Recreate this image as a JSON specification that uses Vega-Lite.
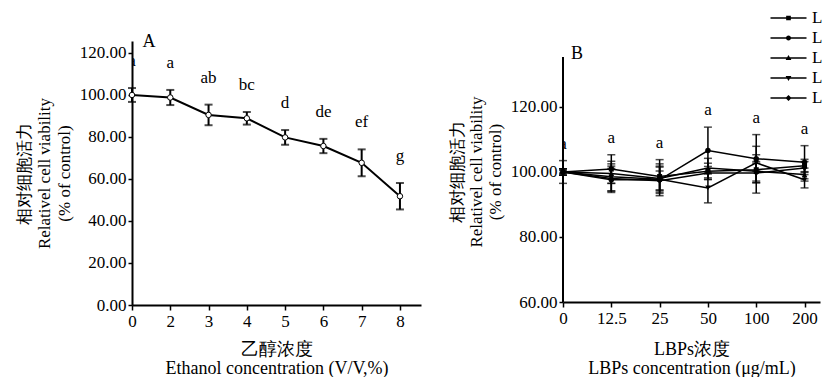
{
  "$schema": "https://vega.github.io/schema/vega-lite/v6.json",
  "background": "white",
  "padding": {"left": 15, "top": 8, "right": 0, "bottom": 0},
  "spacing": 27,
  "config": {
    "font": "Liberation Serif",
    "view": {"stroke": null},
    "axis": {
      "domainColor": "black", "domainWidth": 2, "tickColor": "black", "tickWidth": 1.5, "tickSize": 5,
      "labelColor": "black", "labelFontSize": 17, "labelFont": "Liberation Serif",
      "titleFont": "Liberation Serif", "titleFontWeight": "normal", "titleColor": "black",
      "titleFontSize": 17, "titleLineHeight": 20, "grid": false
    },
    "legend": {"labelFont": "Liberation Serif"},
    "text": {"font": "Liberation Serif"}
  },
  "datasets": {
    "ethanol": [
      {"conc": "0", "v": 100.0, "sd": 3.3, "sig": "a"},
      {"conc": "2", "v": 98.8, "sd": 3.6, "sig": "a"},
      {"conc": "3", "v": 90.5, "sd": 4.9, "sig": "ab"},
      {"conc": "4", "v": 88.9, "sd": 3.0, "sig": "bc"},
      {"conc": "5", "v": 79.8, "sd": 3.5, "sig": "d"},
      {"conc": "6", "v": 75.7, "sd": 3.4, "sig": "de"},
      {"conc": "7", "v": 67.7, "sd": 6.4, "sig": "ef"},
      {"conc": "8", "v": 51.8, "sd": 6.3, "sig": "g"}
    ],
    "lbp": [
      {"series": "L1", "conc": "0", "v": 100.0, "sd": 3.5},
      {"series": "L1", "conc": "12.5", "v": 100.9, "sd": 4.4},
      {"series": "L1", "conc": "25", "v": 98.6, "sd": 5.2},
      {"series": "L1", "conc": "50", "v": 100.2, "sd": 2.5},
      {"series": "L1", "conc": "100", "v": 100.7, "sd": 7.2},
      {"series": "L1", "conc": "200", "v": 101.9, "sd": 2.0},
      {"series": "L2", "conc": "0", "v": 100.0, "sd": 0.5},
      {"series": "L2", "conc": "12.5", "v": 97.6, "sd": 3.5},
      {"series": "L2", "conc": "25", "v": 97.6, "sd": 4.9},
      {"series": "L2", "conc": "50", "v": 106.6, "sd": 7.2},
      {"series": "L2", "conc": "100", "v": 104.1, "sd": 7.4},
      {"series": "L2", "conc": "200", "v": 103.0, "sd": 5.1},
      {"series": "L3", "conc": "0", "v": 100.0, "sd": 1.0},
      {"series": "L3", "conc": "12.5", "v": 99.5, "sd": 3.0},
      {"series": "L3", "conc": "25", "v": 98.0, "sd": 3.5},
      {"series": "L3", "conc": "50", "v": 101.2, "sd": 3.0},
      {"series": "L3", "conc": "100", "v": 100.2, "sd": 3.0},
      {"series": "L3", "conc": "200", "v": 99.2, "sd": 2.0},
      {"series": "L4", "conc": "0", "v": 100.0, "sd": 1.0},
      {"series": "L4", "conc": "12.5", "v": 98.5, "sd": 4.8},
      {"series": "L4", "conc": "25", "v": 97.8, "sd": 4.0},
      {"series": "L4", "conc": "50", "v": 95.1, "sd": 4.6},
      {"series": "L4", "conc": "100", "v": 102.8, "sd": 2.5},
      {"series": "L4", "conc": "200", "v": 97.6, "sd": 2.5},
      {"series": "L5", "conc": "0", "v": 100.0, "sd": 1.0},
      {"series": "L5", "conc": "12.5", "v": 98.0, "sd": 3.8},
      {"series": "L5", "conc": "25", "v": 97.3, "sd": 3.0},
      {"series": "L5", "conc": "50", "v": 99.7, "sd": 2.0},
      {"series": "L5", "conc": "100", "v": 99.7, "sd": 3.0},
      {"series": "L5", "conc": "200", "v": 101.2, "sd": 2.0}
    ]
  },
  "hconcat": [
    {
      "width": 289,
      "height": 264,
      "data": {"name": "ethanol"},
      "transform": [
        {"calculate": "datum.v - datum.sd", "as": "lo"},
        {"calculate": "datum.v + datum.sd", "as": "hi"}
      ],
      "encoding": {
        "x": {
          "field": "conc", "type": "ordinal",
          "scale": {"type": "point", "domain": ["0", "2", "3", "4", "5", "6", "7", "8"], "padding": 0.275, "align": 0},
          "axis": {"labelAngle": 0, "labelPadding": 3, "labelFont": "Liberation Serif", "titleFont": "Liberation Serif",
                   "titleFontSize": 18, "titlePadding": 11, "titleLineHeight": 19,
                   "title": ["乙醇浓度", "Ethanol concentration (V/V,%)"]}
        }
      },
      "layer": [
        {
          "mark": {"type": "line", "color": "black", "strokeWidth": 2},
          "encoding": {
            "y": {
              "field": "v", "type": "quantitative",
              "scale": {"domain": [0, 125.7], "nice": false, "zero": false},
              "axis": {
                "values": [0, 10, 20, 30, 40, 50, 60, 70, 80, 90, 100, 110, 120],
                "labelExpr": "datum.value % 20 === 0 ? format(datum.value, '.2f') : ''",
                "labelFont": "Liberation Serif", "titleFont": "Liberation Serif",
                "tickSize": 4, "labelPadding": 2, "titlePadding": 6,
                "title": ["相对细胞活力", "Relativel cell viability", "(% of control)"]
              }
            }
          }
        },
        {
          "mark": {"type": "rule", "color": "black", "strokeWidth": 2},
          "encoding": {"y": {"field": "lo", "type": "quantitative"}, "y2": {"field": "hi"}}
        },
        {
          "mark": {"type": "tick", "color": "black", "size": 8, "thickness": 2},
          "encoding": {"y": {"field": "lo", "type": "quantitative"}}
        },
        {
          "mark": {"type": "tick", "color": "black", "size": 8, "thickness": 2},
          "encoding": {"y": {"field": "hi", "type": "quantitative"}}
        },
        {
          "mark": {"type": "point", "shape": "circle", "filled": true, "fill": "white", "stroke": "black", "strokeWidth": 1, "size": 30, "opacity": 1},
          "encoding": {"y": {"field": "v", "type": "quantitative"}}
        },
        {
          "mark": {"type": "text", "font": "Liberation Serif", "fontSize": 17, "baseline": "alphabetic", "dy": -22, "clip": true, "color": "black"},
          "encoding": {
            "y": {"field": "hi", "type": "quantitative"},
            "text": {"field": "sig"}
          }
        },
        {
          "data": {"values": [{"panel": "A"}]},
          "mark": {"type": "text", "font": "Liberation Serif", "fontSize": 18, "baseline": "alphabetic", "align": "center", "dx": 17, "dy": 6, "color": "black"},
          "encoding": {
            "x": {"datum": "0"},
            "y": {"datum": 125.7},
            "text": {"field": "panel"}
          }
        }
      ]
    },
    {
      "width": 257,
      "height": 261,
      "data": {"name": "lbp"},
      "transform": [
        {"calculate": "datum.v - datum.sd", "as": "lo"},
        {"calculate": "datum.v + datum.sd", "as": "hi"}
      ],
      "encoding": {
        "x": {
          "field": "conc", "type": "ordinal",
          "scale": {"type": "point", "domain": ["0", "12.5", "25", "50", "100", "200"], "padding": 0.16, "align": 0},
          "axis": {"labelAngle": 0, "labelPadding": 3, "labelFont": "Liberation Serif", "titleFont": "Liberation Serif",
                   "titleFontSize": 18, "titlePadding": 14, "titleLineHeight": 19,
                   "title": ["LBPs浓度", "LBPs concentration (μg/mL)"]}
        }
      },
      "layer": [
        {
          "mark": {"type": "line", "color": "black", "strokeWidth": 1.5},
          "encoding": {
            "detail": {"field": "series"},
            "y": {
              "field": "v", "type": "quantitative",
              "scale": {"domain": [60, 140.3], "nice": false, "zero": false},
              "axis": {
                "values": [60, 70, 80, 90, 100, 110, 120, 130],
                "labelExpr": "datum.value % 20 === 0 ? format(datum.value, '.2f') : ''",
                "labelFont": "Liberation Serif", "titleFont": "Liberation Serif",
                "domain": false,
                "tickSize": 4, "labelPadding": 2, "titlePadding": 6, "titleLineHeight": 19,
                "title": ["相对细胞活力", "Relativel cell viability", "(% of control)"]
              }
            }
          }
        },
        {
          "data": {"values": [{"lo": 60, "hi": 135.4}]},
          "mark": {"type": "rule", "color": "black", "strokeWidth": 2},
          "encoding": {
            "x": {"datum": "0"},
            "y": {"field": "lo", "type": "quantitative"},
            "y2": {"field": "hi"}
          }
        },
        {
          "mark": {"type": "rule", "color": "black", "strokeWidth": 1.5},
          "encoding": {"y": {"field": "lo", "type": "quantitative"}, "y2": {"field": "hi"}}
        },
        {
          "mark": {"type": "tick", "color": "black", "size": 8, "thickness": 1.5},
          "encoding": {"y": {"field": "lo", "type": "quantitative"}}
        },
        {
          "mark": {"type": "tick", "color": "black", "size": 8, "thickness": 1.5},
          "encoding": {"y": {"field": "hi", "type": "quantitative"}}
        },
        {
          "transform": [{"filter": "datum.series === 'L1'"}],
          "mark": {"type": "point", "shape": "square", "filled": true, "color": "black", "size": 25, "opacity": 1},
          "encoding": {"y": {"field": "v", "type": "quantitative"}}
        },
        {
          "transform": [{"filter": "datum.series === 'L2'"}],
          "mark": {"type": "point", "shape": "circle", "filled": true, "color": "black", "size": 30, "opacity": 1},
          "encoding": {"y": {"field": "v", "type": "quantitative"}}
        },
        {
          "transform": [{"filter": "datum.series === 'L3'"}],
          "mark": {"type": "point", "shape": "triangle-up", "filled": true, "color": "black", "size": 30, "opacity": 1},
          "encoding": {"y": {"field": "v", "type": "quantitative"}}
        },
        {
          "transform": [{"filter": "datum.series === 'L4'"}],
          "mark": {"type": "point", "shape": "triangle-down", "filled": true, "color": "black", "size": 30, "opacity": 1},
          "encoding": {"y": {"field": "v", "type": "quantitative"}}
        },
        {
          "transform": [{"filter": "datum.series === 'L5'"}],
          "mark": {"type": "point", "shape": "diamond", "filled": true, "color": "black", "size": 30, "opacity": 1},
          "encoding": {"y": {"field": "v", "type": "quantitative"}}
        },
        {
          "mark": {"type": "point", "filled": false, "fill": "black", "stroke": "black", "strokeWidth": 1.5, "opacity": 0},
          "encoding": {
            "y": {"field": "v", "type": "quantitative"},
            "shape": {
              "field": "series", "type": "nominal",
              "scale": {
                "domain": ["L1", "L2", "L3", "L4", "L5"],
                "range": [
                  "M-1,-0.04H1V0.04H-1ZM-0.13,-0.13H0.13V0.13H-0.13Z",
                  "M-1,-0.04H1V0.04H-1ZM0.14,0A0.14,0.14 0 1,1 -0.14,0A0.14,0.14 0 1,1 0.14,0Z",
                  "M-1,-0.04H1V0.04H-1ZM0,-0.17L0.16,0.11H-0.16Z",
                  "M-1,-0.04H1V0.04H-1ZM0,0.17L-0.16,-0.11H0.16Z",
                  "M-1,-0.04H1V0.04H-1ZM0,-0.17L0.17,0L0,0.17L-0.17,0Z"
                ]
              },
              "legend": {
                "orient": "none", "legendX": 638, "legendY": -33, "title": null,
                "labelExpr": "'L'", "labelFontSize": 17, "labelFont": "Liberation Serif", "labelColor": "black",
                "labelOffset": 5, "symbolSize": 1296, "symbolStrokeWidth": 0.5,
                "symbolFillColor": "black", "symbolStrokeColor": "black", "symbolOpacity": 1,
                "clipHeight": 20, "rowPadding": 0
              }
            }
          }
        },
        {
          "transform": [{"aggregate": [{"op": "max", "field": "hi", "as": "top"}], "groupby": ["conc"]}],
          "mark": {"type": "text", "font": "Liberation Serif", "fontSize": 17, "baseline": "alphabetic", "dy": -12, "clip": true, "color": "black", "text": "a"},
          "encoding": {"y": {"field": "top", "type": "quantitative"}}
        },
        {
          "data": {"values": [{"panel": "B"}]},
          "mark": {"type": "text", "font": "Liberation Serif", "fontSize": 18, "baseline": "alphabetic", "align": "center", "dx": 14, "dy": 2, "color": "black"},
          "encoding": {
            "x": {"datum": "0"},
            "y": {"datum": 135.4},
            "text": {"field": "panel"}
          }
        }
      ]
    }
  ]
}
